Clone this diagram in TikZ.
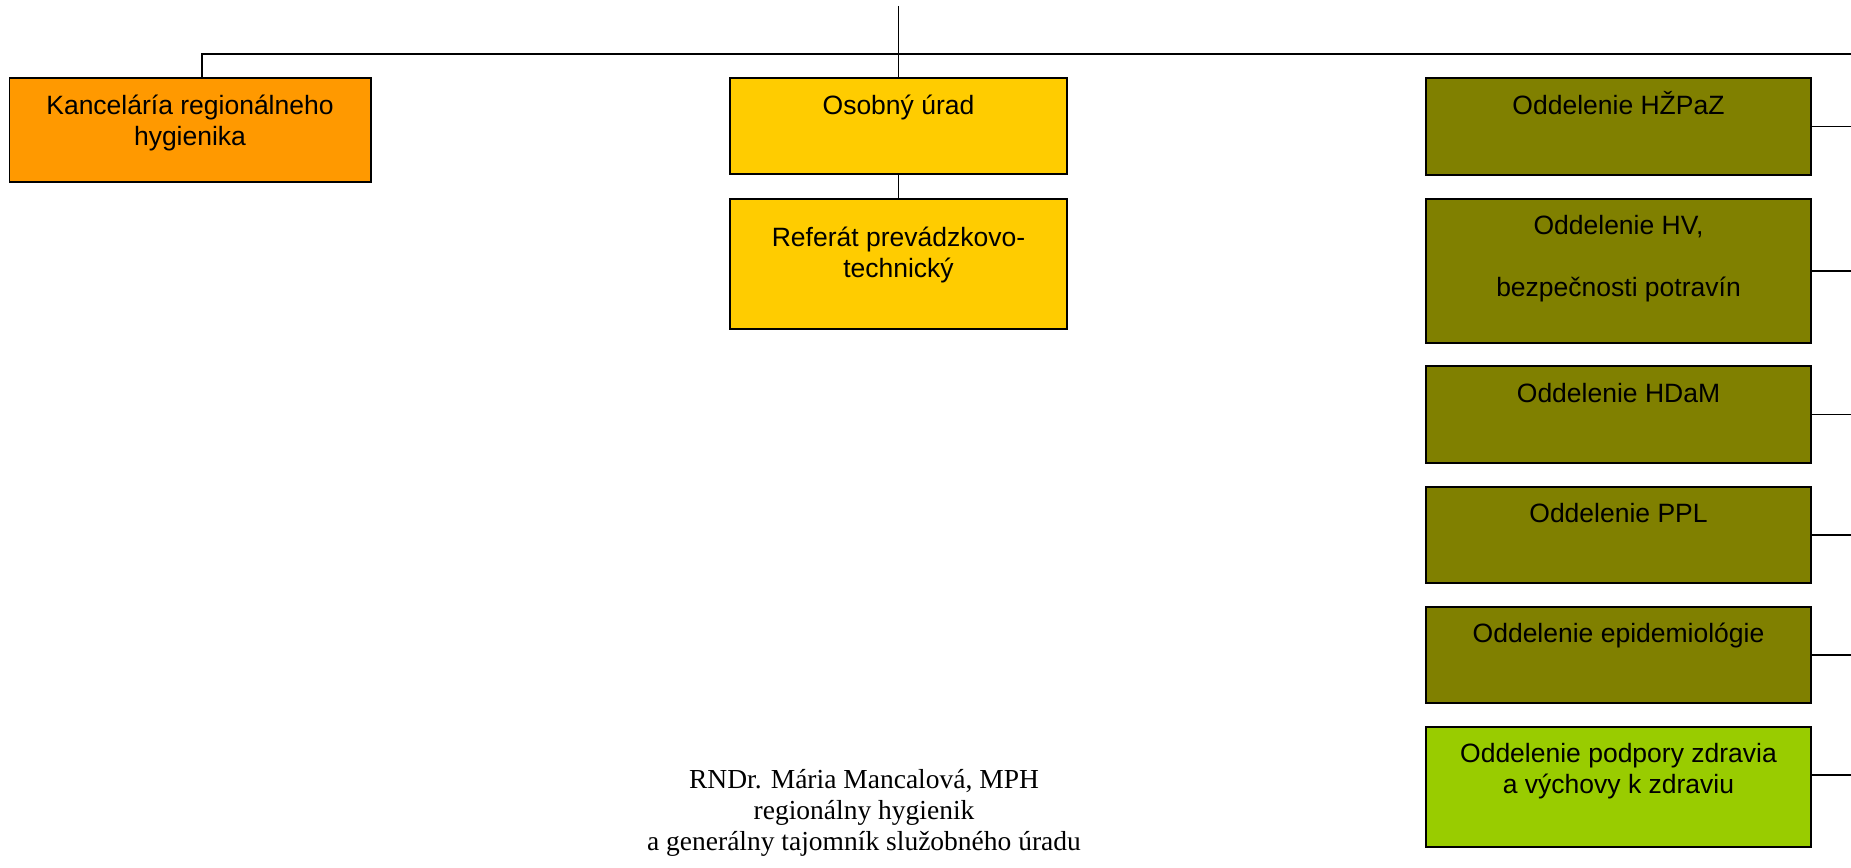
\documentclass[tikz,border=0pt]{standalone}
\usepackage{fontspec}
\newfontfamily\sansf{Liberation Sans}
\newfontfamily\seriff{Liberation Serif}
\definecolor{corange}{HTML}{FF9900}
\definecolor{cyellow}{HTML}{FFCC00}
\definecolor{colive}{HTML}{808000}
\definecolor{cgreen}{HTML}{99CC00}
\begin{document}
\begin{tikzpicture}[x=1pt,y=-1pt,
  box/.style={draw=black, line width=1.9pt, rectangle, anchor=north west, inner sep=0pt, outer sep=0pt},
  rbox/.style={box, fill=colive, minimum width=385pt},
  lbl/.style={font=\sansf\fontsize{26.5}{30.5}\selectfont, align=center, anchor=base, inner sep=0pt},
  conn/.style={line width=1.5pt, draw=black}]
\useasboundingbox (0,0) rectangle (1851,867);
% boxes
\node[box, fill=corange, minimum width=361.5pt, minimum height=104pt] (kanc) at (9.5,78) {};
\node[box, fill=cyellow, minimum width=337pt, minimum height=96pt] (osob) at (730,78) {};
\node[box, fill=cyellow, minimum width=337pt, minimum height=130pt] (ref) at (730,199) {};
\node[rbox, minimum height=97pt] (hzp) at (1426,78) {};
\node[rbox, minimum height=144pt] (hv) at (1426,199) {};
\node[rbox, minimum height=97pt] (hdam) at (1426,366) {};
\node[rbox, minimum height=96pt] (ppl) at (1426,487) {};
\node[rbox, minimum height=96pt] (epi) at (1426,607) {};
\node[rbox, fill=cgreen, minimum height=120pt] (podp) at (1426,727) {};
% labels (base anchor = baseline of the last line)
\node[lbl] (kanct) at (190,145) {Kanceláría regionálneho\\hygienika};
\node[lbl] (osobt) at (898.5,114) {Osobný úrad};
\node[lbl] (reft) at (898.5,277) {Referát prevádzkovo-\\technický};
\node[lbl] (hzpt) at (1618.5,114) {Oddelenie HŽPaZ};
\node[lbl] (hvt) at (1618.5,234) {Oddelenie HV,};
\node[lbl] (hvt2) at (1618.5,296) {bezpečnosti potravín};
\node[lbl] (hdamt) at (1618.5,402) {Oddelenie HDaM};
\node[lbl] (pplt) at (1618.5,522) {Oddelenie PPL};
\node[lbl] (epit) at (1618.5,642) {Oddelenie epidemiológie};
\node[lbl] (podpt) at (1618.5,793) {Oddelenie podpory zdravia\\a výchovy k zdraviu};
\node[font=\seriff\fontsize{27.5}{31}\selectfont, align=center, anchor=base, inner sep=0pt] (sign) at (864,850) {RNDr. Mária Mancalová, MPH\\regionálny hygienik\\a generálny tajomník služobného úradu};
% connectors
\coordinate (top) at (898.5,6);
\coordinate (hl) at (202,54);
\coordinate (hr) at (1851,54);
\draw[conn] (hr) -- (hl) -- (hl |- kanc.north);
\draw[conn] (top) -- (osob.north);
\draw[conn] (osob.south) -- (ref.north);
\foreach \n in {hzp,hv,hdam,ppl,epi}{
  \draw[conn] (\n.east) -- (\n.east -| hr);
}
\coordinate (pc) at (1811,775);
\draw[conn] (podp.east |- pc) -- (pc -| hr);
\end{tikzpicture}
\end{document}
